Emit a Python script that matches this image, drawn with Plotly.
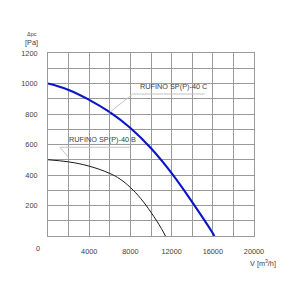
import plotly.graph_objects as go

# Data
c_flow = [0, 2000, 4000, 6000, 8000, 10000, 12000, 14000, 16000, 16150]
c_pressure = [1000, 958, 893, 812, 708, 575, 412, 222, 18, 0]
b_flow = [0, 2000, 4000, 6000, 7000, 8000, 9000, 10000, 11000, 11400]
b_pressure = [500, 486, 458, 410, 373, 318, 246, 155, 50, 0]
x_ticks = [4000, 8000, 12000, 16000, 20000]
x_tick_labels = ["4000", "8000", "12000", "16000", "20000"]
y_ticks = [200, 400, 600, 800, 1000, 1200]
y_tick_labels = ["200", "400", "600", "800", "1000", "1200"]
label_c = "RUFINO SP(P)-40 C"
label_b = "RUFINO SP(P)-40 B"

grid = "#9a9a9a"
lead = "#c4c4c4"
txt = "#404040"
font = "Liberation Sans, Arial, sans-serif"
fs = 7.3

fig = go.Figure()
fig.add_trace(go.Scatter(x=c_flow, y=c_pressure, mode="lines",
                         line=dict(color="#0a14c8", width=2.1, shape="spline", smoothing=1.2),
                         hoverinfo="skip", showlegend=False))
fig.add_trace(go.Scatter(x=b_flow, y=b_pressure, mode="lines",
                         line=dict(color="#1a1a1a", width=1.0, shape="spline", smoothing=1.2),
                         hoverinfo="skip", showlegend=False))

# leader lines
shapes = [
    dict(type="line", x0=6000, y0=812, x1=8230, y1=931, line=dict(color=lead, width=1)),
    dict(type="line", x0=8230, y0=931, x1=15200, y1=931, line=dict(color=lead, width=1)),
    dict(type="line", x0=2000, y0=515, x1=1150, y1=582, line=dict(color=lead, width=1)),
    dict(type="line", x0=1150, y0=582, x1=7950, y1=582, line=dict(color=lead, width=1)),
]

annotations = [
    dict(x=8700, y=937, text=label_c, showarrow=False, xanchor="left", yanchor="bottom",
         font=dict(size=fs, color=txt, family=font)),
    dict(x=1800, y=588, text=label_b, showarrow=False, xanchor="left", yanchor="bottom",
         font=dict(size=fs, color=txt, family=font)),
    dict(x=32, y=34, xref="paper", yref="paper", text="Δpc", showarrow=False,
         font=dict(size=5.5, color=txt, family=font)),
    dict(x=32, y=42, xref="paper", yref="paper", text="[Pa]", showarrow=False,
         font=dict(size=fs, color=txt, family=font)),
    dict(x=38, y=249, xref="paper", yref="paper", text="0", showarrow=False,
         font=dict(size=fs, color=txt, family=font)),
    dict(x=263, y=264, xref="paper", yref="paper", text="V [m<sup>3</sup>/h]", showarrow=False,
         font=dict(size=fs, color=txt, family=font)),
]
# convert pixel-positioned annotations to paper coords
L, R, T, B = 48, 46.3, 53, 63.5
pw, ph = 300 - L - R, 300 - T - B
for a in annotations:
    if a.get("xref") == "paper":
        a["x"] = (a["x"] - L) / pw
        a["y"] = 1 - (a["y"] - T) / ph
        a["xanchor"] = "center"
        a["yanchor"] = "middle"

fig.update_layout(
    width=300, height=300,
    margin=dict(l=L, r=R, t=T, b=B),
    paper_bgcolor="white", plot_bgcolor="white",
    shapes=shapes, annotations=annotations,
    font=dict(family=font, size=fs, color=txt),
)
fig.update_xaxes(range=[0, 20000], tickmode="array", tickvals=x_ticks, ticktext=x_tick_labels,
                 showgrid=True, gridcolor=grid, gridwidth=1, zeroline=False,
                 minor=dict(dtick=2000, tick0=0, showgrid=True, gridcolor=grid, gridwidth=1),
                 showline=True, linecolor=grid, linewidth=1, mirror=True,
                 ticks="", ticklabelstandoff=8, tickfont=dict(size=fs, color=txt))
fig.update_yaxes(range=[0, 1200], tickmode="array", tickvals=y_ticks, ticktext=y_tick_labels,
                 showgrid=True, gridcolor=grid, gridwidth=1, zeroline=False,
                 minor=dict(dtick=100, tick0=0, showgrid=True, gridcolor=grid, gridwidth=1),
                 showline=True, linecolor=grid, linewidth=1, mirror=True,
                 ticks="", ticklabelstandoff=8, tickfont=dict(size=fs, color=txt))

fig.write_html("out.html")
